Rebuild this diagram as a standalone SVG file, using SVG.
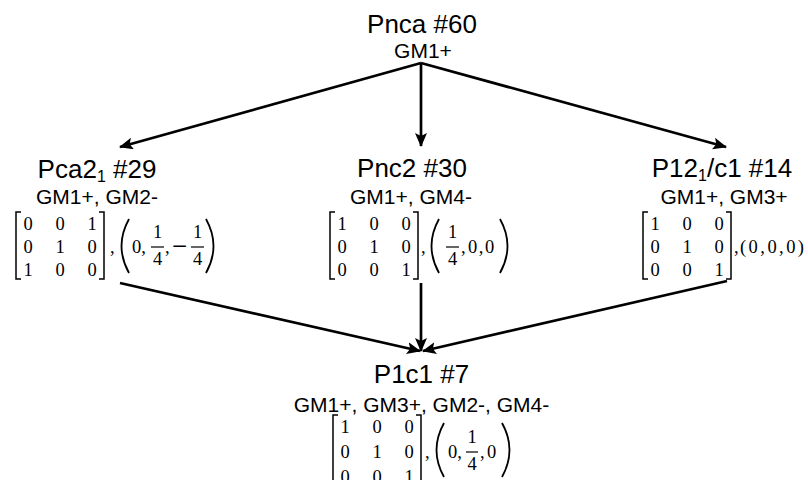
<svg xmlns="http://www.w3.org/2000/svg" width="808" height="480" viewBox="0 0 808 480">
<style>
.t{font-family:"Liberation Sans",Arial,sans-serif;font-size:26px;fill:#000;text-anchor:middle}
.s{font-family:"Liberation Sans",Arial,sans-serif;font-size:21px;fill:#000;text-anchor:middle}
.m{font-family:"Liberation Serif","Times New Roman",serif;font-size:18.5px;fill:#000;text-anchor:middle}
.ml{font-family:"Liberation Serif","Times New Roman",serif;font-size:18.5px;fill:#000}
.mn{font-family:"Liberation Serif","Times New Roman",serif;font-size:27px;fill:#000}
.br{fill:none;stroke:#000;stroke-width:1.5}
.pa{fill:none;stroke:#000;stroke-width:1.8}
.fb{stroke:#000;stroke-width:1.2}
.c{fill:none;stroke:#000;stroke-width:2.7}
</style>
<defs>
<marker id="ah" viewBox="0 0 14 12" refX="13" refY="6" markerWidth="14" markerHeight="12" orient="auto" markerUnits="userSpaceOnUse">
<path d="M0,0 L14,6 L0,12 L3,6 Z" fill="#000"/>
</marker>
</defs>
<rect width="808" height="480" fill="#fff"/>

<g id="connectors">
<line class="c" x1="421" y1="63" x2="120" y2="147" marker-end="url(#ah)"/>
<line class="c" x1="421" y1="63" x2="421" y2="146" marker-end="url(#ah)"/>
<line class="c" x1="421" y1="63" x2="726" y2="147" marker-end="url(#ah)"/>
<line class="c" x1="120" y1="283" x2="420" y2="351" marker-end="url(#ah)"/>
<line class="c" x1="421" y1="283" x2="421" y2="351" marker-end="url(#ah)"/>
<line class="c" x1="727" y1="281" x2="423" y2="351" marker-end="url(#ah)"/>
</g>

<g id="n60">
<text class="t" x="422" y="33">Pnca #60</text>
<text class="s" x="423" y="58">GM1+</text>
</g>

<g id="n29">
<text class="t" x="97" y="178">Pca2<tspan font-size="16" dy="4">1</tspan><tspan dy="-4"> #29</tspan></text>
<text class="s" x="97" y="204">GM1+, GM2-</text>
<path class="br" d="M21,212 H16 V279 H21 M99,212 H104 V279 H99"/>
<text class="m" x="28" y="230">0</text><text class="m" x="60" y="230">0</text><text class="m" x="92" y="230">1</text>
<text class="m" x="28" y="253">0</text><text class="m" x="60" y="253">1</text><text class="m" x="92" y="253">0</text>
<text class="m" x="28" y="276">1</text><text class="m" x="60" y="276">0</text><text class="m" x="92" y="276">0</text>
<text class="ml" x="110" y="253">,</text>
<path class="pa" d="M129,219 Q114,246 129,273"/>
<text class="ml" x="132" y="253">0,</text>
<text class="m" x="157.5" y="238">1</text>
<line class="fb" x1="151" y1="247" x2="164" y2="247"/>
<text class="m" x="157.5" y="265">4</text>
<text class="ml" x="165" y="253">,</text>
<text class="mn" x="172" y="255">−</text>
<text class="m" x="197.5" y="238">1</text>
<line class="fb" x1="191" y1="247" x2="204" y2="247"/>
<text class="m" x="197.5" y="265">4</text>
<path class="pa" d="M206,219 Q221,246 206,273"/>
</g>

<g id="n30">
<text class="t" x="412" y="177">Pnc2 #30</text>
<text class="s" x="411" y="204">GM1+, GM4-</text>
<path class="br" d="M335,212 H330 V279 H335 M413,212 H418 V279 H413"/>
<text class="m" x="342" y="230">1</text><text class="m" x="374" y="230">0</text><text class="m" x="406" y="230">0</text>
<text class="m" x="342" y="253">0</text><text class="m" x="374" y="253">1</text><text class="m" x="406" y="253">0</text>
<text class="m" x="342" y="276">0</text><text class="m" x="374" y="276">0</text><text class="m" x="406" y="276">1</text>
<text class="ml" x="421" y="253">,</text>
<path class="pa" d="M439,219 Q424,246 439,273"/>
<text class="m" x="452.5" y="238">1</text>
<line class="fb" x1="446" y1="247" x2="459" y2="247"/>
<text class="m" x="452.5" y="265">4</text>
<text class="ml" x="461" y="253">,</text>
<text class="ml" x="468" y="253" letter-spacing="1.5">0,0</text>
<path class="pa" d="M500,219 Q515,246 500,273"/>
</g>

<g id="n14">
<text class="t" x="722" y="177">P12<tspan font-size="16" dy="4">1</tspan><tspan dy="-4">/c1 #14</tspan></text>
<text class="s" x="724" y="204">GM1+, GM3+</text>
<path class="br" d="M648,212 H643 V279 H648 M726,212 H731 V279 H726"/>
<text class="m" x="655" y="230">1</text><text class="m" x="687" y="230">0</text><text class="m" x="719" y="230">0</text>
<text class="m" x="655" y="253">0</text><text class="m" x="687" y="253">1</text><text class="m" x="719" y="253">0</text>
<text class="m" x="655" y="276">0</text><text class="m" x="687" y="276">0</text><text class="m" x="719" y="276">1</text>
<text class="ml" x="734" y="253">,</text>
<text class="ml" x="740" y="253" textLength="64" lengthAdjust="spacing">(0,0,0)</text>
</g>

<g id="n7">
<text class="t" x="421.5" y="383">P1c1 #7</text>
<text class="s" x="421.5" y="412">GM1+, GM3+, GM2-, GM4-</text>
<path class="br" d="M338,415 H333 V486 H338 M416,415 H421 V486 H416"/>
<text class="m" x="345" y="433">1</text><text class="m" x="377" y="433">0</text><text class="m" x="409" y="433">0</text>
<text class="m" x="345" y="458">0</text><text class="m" x="377" y="458">1</text><text class="m" x="409" y="458">0</text>
<text class="m" x="345" y="483">0</text><text class="m" x="377" y="483">0</text><text class="m" x="409" y="483">1</text>
<text class="ml" x="425" y="458">,</text>
<path class="pa" d="M444,423 Q429,450 444,477"/>
<text class="ml" x="448" y="458">0,</text>
<text class="m" x="472" y="443">1</text>
<line class="fb" x1="466" y1="452" x2="478" y2="452"/>
<text class="m" x="472" y="470">4</text>
<text class="ml" x="480" y="458">,</text>
<text class="ml" x="487" y="458">0</text>
<path class="pa" d="M502,423 Q517,450 502,477"/>
</g>
</svg>
